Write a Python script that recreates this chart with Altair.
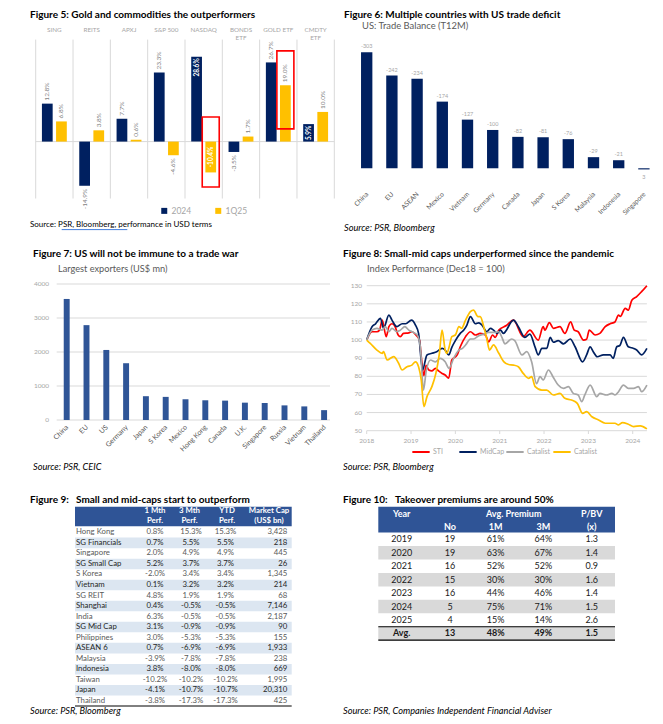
import altair as alt
import pandas as pd

FONT = "Lato"
W, H = 647, 708

NAVY = "#002060"
GOLD = "#FFC000"
BLUE = "#2F5597"
RED = "#FF0000"
LGREY = "#A6A6A6"
MGREY = "#7F7F7F"
DGREY = "#595959"
GRID = "#D9D9D9"
HDR = "#2F5496"
TSIZE = 10

# ---------------- data ----------------
f5_title = "Figure 5:  Gold and commodities the outperformers"
f5_source = "Source: PSR,  Bloomberg, performance in USD terms"
f5_cats = ["SING", "REITS", "APXJ", "S&P 500", "NASDAQ", "BONDS\nETF", "GOLD ETF", "CMDTY\nETF"]
f5_series = ["2024", "1Q25"]
f5_2024 = [12.8, -14.9, 7.7, 23.3, 28.6, -3.5, 26.7, 5.9]
f5_1q25 = [6.8, 3.8, 0.6, -4.6, -10.4, 1.7, 19.0, 10.0]
f5_box_cats = ["NASDAQ", "GOLD ETF"]
f5_box_top = [8.3, 30.6]
f5_box_bottom = [-15.3, 4.3]

f6_title = "Figure 6: Multiple countries with US trade deficit"
f6_subtitle = "US: Trade Balance (T12M)"
f6_source = "Source: PSR, Bloomberg"
f6_countries = ["China", "EU", "ASEAN", "Mexico", "Vietnam", "Germany", "Canada",
                "Japan", "S Korea", "Malaysia", "Indonesia", "Singapore"]
f6_values = [-303, -242, -234, -174, -127, -100, -82, -81, -76, -29, -21, 3]

f7_title = "Figure 7: US will not be immune to a trade war"
f7_subtitle = "Largest exporters (US$ mn)"
f7_source = "Source: PSR, CEIC"
f7_countries = ["China", "EU", "US", "Germany", "Japan", "S Korea", "Mexico", "Hong Kong",
                "Canada", "U.K.", "Singapore", "Russia", "Vietnam", "Thailand"]
f7_values = [3560, 2790, 2060, 1670, 700, 680, 610, 580, 570, 510, 500, 430, 400, 290]
f7_ticks = [0, 1000, 2000, 3000, 4000]

f8_title = "Figure 8: Small-mid caps underperformed since the pandemic"
f8_subtitle = "Index Performance (Dec18 = 100)"
f8_source = "Source: PSR, Bloomberg"
f8_series = ["STI", "MidCap", "Catalist", "Catalist "]
f8_yticks = [50, 60, 70, 80, 90, 100, 110, 120, 130]
f8_years = [2018, 2019, 2020, 2021, 2022, 2023, 2024]
f8_sti_t = [2018.00, 2018.12, 2018.23, 2018.29, 2018.35, 2018.44, 2018.50, 2018.57, 2018.64, 2018.71,
            2018.76, 2018.83, 2018.95, 2019.02, 2019.11, 2019.19, 2019.23, 2019.29, 2019.34, 2019.40,
            2019.47, 2019.55, 2019.62, 2019.70, 2019.77, 2019.85, 2019.92, 2020.04, 2020.11, 2020.23,
            2020.34, 2020.45, 2020.56, 2020.68, 2020.75, 2020.84, 2020.90, 2020.98, 2021.15, 2021.31,
            2021.53, 2021.68, 2021.87, 2021.98, 2022.02, 2022.12, 2022.21, 2022.36, 2022.47, 2022.60,
            2022.68, 2022.77, 2022.89, 2022.96, 2023.02, 2023.15, 2023.26, 2023.38, 2023.49, 2023.60,
            2023.68, 2023.72, 2023.83, 2023.90, 2023.98, 2024.09, 2024.20, 2024.32]
f8_sti = [100, 104.6, 104.6, 105.5, 111, 101.9, 107.4, 109, 107.4, 102.8,
          101.9, 103.7, 104, 104.6, 102.8, 100, 90.9, 80.4, 86, 83.5,
          83, 84.4, 83, 81.6, 80.7, 79, 89, 91.8, 96.3, 101.9,
          104.6, 102.8, 103.7, 102.8, 99, 102.8, 101.5, 105.5, 108, 111,
          101.9, 105.5, 100, 107.4, 105.5, 109.6, 106.5, 107.4, 103.7, 110,
          105.5, 104.6, 100, 100.5, 105.5, 102.8, 103.7, 107.4, 109, 110,
          113.8, 113, 117.5, 116.5, 122, 124, 126.7, 130]
f8_mid_t = [2018.00, 2018.12, 2018.20, 2018.31, 2018.38, 2018.50, 2018.57, 2018.68, 2018.80, 2018.88,
            2019.01, 2019.10, 2019.17, 2019.26, 2019.36, 2019.47, 2019.58, 2019.70, 2019.77, 2019.85,
            2019.92, 2020.00, 2020.11, 2020.19, 2020.26, 2020.34, 2020.45, 2020.53, 2020.60, 2020.71,
            2020.79, 2020.86, 2020.94, 2021.02, 2021.08, 2021.31, 2021.42, 2021.57, 2021.68, 2021.80,
            2021.87, 2021.95, 2022.06, 2022.14, 2022.21, 2022.32, 2022.44, 2022.59, 2022.70, 2022.87,
            2022.96, 2023.04, 2023.11, 2023.20, 2023.34, 2023.49, 2023.56, 2023.64, 2023.71, 2023.79,
            2023.90, 2024.02, 2024.09, 2024.20, 2024.32]
f8_mid = [100, 107.4, 109, 112, 106.5, 113.8, 111, 107.4, 109, 109,
          111, 108.3, 103.7, 83.5, 91.8, 92.7, 93.6, 95.4, 94.5, 91.8,
          96, 99.7, 103.7, 105.5, 108.3, 112.9, 109, 109.5, 108.3, 104.6,
          106.5, 105.5, 103.7, 105.5, 103.7, 111, 107.4, 101.5, 103.3, 96,
          91.8, 95.4, 95.4, 101.5, 98.8, 99.7, 97.9, 100.6, 96.3, 88,
          91.8, 96.3, 93.6, 90.8, 91.8, 91.8, 89.9, 96.3, 97, 101.5,
          96.3, 95.4, 94.5, 91.8, 95.4]
f8_cat1_t = [2018.00, 2018.12, 2018.23, 2018.35, 2018.42, 2018.50, 2018.57, 2018.68, 2018.76, 2018.86,
             2018.95, 2019.02, 2019.14, 2019.21, 2019.28, 2019.34, 2019.44, 2019.55, 2019.66, 2019.77,
             2019.86, 2019.96, 2020.08, 2020.16, 2020.23, 2020.34, 2020.41, 2020.53, 2020.64, 2020.75,
             2020.86, 2020.98, 2021.05, 2021.12, 2021.27, 2021.34, 2021.50, 2021.61, 2021.72, 2021.83,
             2021.91, 2021.98, 2022.10, 2022.20, 2022.32, 2022.44, 2022.55, 2022.66, 2022.77, 2022.85,
             2022.92, 2023.04, 2023.19, 2023.26, 2023.41, 2023.53, 2023.60, 2023.68, 2023.79, 2023.90,
             2024.02, 2024.13, 2024.20, 2024.32]
f8_cat1 = [100, 105.5, 106.5, 105.5, 107.4, 104.6, 106.5, 104.6, 105.5, 107.4,
           105.5, 104.6, 102.8, 96.3, 72.4, 82.6, 89, 88, 89.9, 88,
           84.4, 89.9, 94.5, 95.4, 97.3, 100.6, 100.6, 102.4, 103.3, 104.2,
           104.2, 104.6, 101.5, 97.9, 100.6, 99.7, 91.8, 93.6, 88, 76,
           79.8, 78, 83.5, 79.8, 75.2, 73.4, 74.3, 70.6, 69.7, 66,
           69.7, 75.2, 68.8, 70.6, 69.7, 70.6, 69.7, 71.5, 75.2, 73.4,
           73.4, 74.3, 71.5, 75.2]
f8_cat2_t = [2018.00, 2018.08, 2018.23, 2018.35, 2018.38, 2018.46, 2018.61, 2018.72, 2018.80, 2018.91,
             2019.02, 2019.10, 2019.17, 2019.23, 2019.29, 2019.36, 2019.47, 2019.56, 2019.64, 2019.70,
             2019.77, 2019.81, 2019.86, 2019.92, 2020.00, 2020.08, 2020.14, 2020.23, 2020.34, 2020.41,
             2020.51, 2020.56, 2020.64, 2020.71, 2020.77, 2020.86, 2020.98, 2021.09, 2021.20, 2021.31,
             2021.42, 2021.53, 2021.65, 2021.72, 2021.80, 2021.95, 2022.06, 2022.21, 2022.36, 2022.47,
             2022.62, 2022.75, 2022.87, 2022.96, 2023.08, 2023.23, 2023.38, 2023.60, 2023.68, 2023.77,
             2023.90, 2024.02, 2024.17, 2024.32]
f8_cat2 = [100, 98.2, 94.5, 92.7, 93.6, 89, 90.9, 87.2, 83.5, 85.3,
           86.2, 88, 85.3, 78, 63.3, 68.8, 74.3, 81.6, 92.7, 105.5,
           94.5, 92.7, 96.3, 101.9, 102.8, 107.4, 106.5, 111, 115.7, 116.5,
           112.9, 112.9, 107.4, 100.6, 94.5, 97.3, 92.7, 88.1, 86.5, 86.2,
           85.3, 81.6, 78.9, 79.8, 74.3, 72.4, 72.4, 69.7, 70.6, 67.9,
           66.9, 65.1, 59.6, 60.5, 57.7, 55.9, 54.1, 54.1, 53.2, 54.5,
           53.6, 52.3, 52.7, 51]

f9_fig = "Figure 9:"
f9_title = "Small and mid-caps start to outperform"
f9_source = "Source: PSR, Bloomberg"
f9_header = [["1 Mth", "Perf."], ["3 Mth", "Perf."], ["YTD", "Perf."], ["Market Cap", "(US$ bn)"]]
f9_rows = ["Hong Kong", "SG Financials", "Singapore", "SG Small Cap", "S Korea", "Vietnam", "SG REIT",
           "Shanghai", "India", "SG Mid Cap", "Philippines", "ASEAN 6", "Malaysia", "Indonesia",
           "Taiwan", "Japan", "Thailand"]
f9_m1 = [0.8, 0.7, 2.0, 5.2, -2.0, 0.1, 4.8, 0.4, 6.3, 3.1, 3.0, 0.7, -3.9, 3.8, -10.2, -4.1, -3.8]
f9_m3 = [15.3, 5.5, 4.9, 3.7, 3.4, 3.2, 1.9, -0.5, -0.5, -0.9, -5.3, -6.9, -7.8, -8.0, -10.2, -10.7, -17.3]
f9_ytd = [15.3, 5.5, 4.9, 3.7, 3.4, 3.2, 1.9, -0.5, -0.5, -0.9, -5.3, -6.9, -7.8, -8.0, -10.2, -10.7, -17.3]
f9_mcap = [3428, 218, 445, 26, 1345, 214, 68, 7146, 2187, 90, 155, 1933, 238, 669, 1995, 20310, 425]

f10_fig = "Figure 10:"
f10_title = "Takeover premiums are around 50%"
f10_source = "Source: PSR, Companies Independent Financial Adviser"
f10_header1 = ["Year", "Avg. Premium", "P/BV"]
f10_header2 = ["No", "1M", "3M", "(x)"]
f10_year = ["2019", "2020", "2021", "2022", "2023", "2024", "2025", "Avg."]
f10_no = [19, 19, 16, 15, 16, 5, 4, 13]
f10_1m = [61, 63, 52, 30, 44, 75, 15, 48]
f10_3m = [64, 67, 52, 30, 46, 71, 14, 49]
f10_pbv = [1.3, 1.4, 0.9, 1.6, 1.4, 1.5, 2.6, 1.5]


# ---------------- helpers (page px -> view px) ----------------
def px(x):
    return x - 8


def py(y):
    return y - 8


def txt(s, x, y, size=TSIZE, weight="normal", style="normal", color="#000000",
        align="left", baseline="middle"):
    return alt.Chart(pd.DataFrame({"s": [s]})).mark_text(
        font=FONT, fontSize=size, fontWeight=weight, fontStyle=style, color=color,
        align=align, baseline=baseline).encode(
        text="s:N", x=alt.value(px(x)), y=alt.value(py(y)))


def hrule(x1, x2, y, color, w=1.0):
    return alt.Chart(pd.DataFrame({"a": [0]})).mark_rule(color=color, strokeWidth=w).encode(
        x=alt.value(px(x1)), x2=alt.value(px(x2)), y=alt.value(py(y)))


def box(x1, x2, y1, y2, color):
    return alt.Chart(pd.DataFrame({"a": [0]})).mark_rect(color=color).encode(
        x=alt.value(px(x1)), x2=alt.value(px(x2)), y=alt.value(py(y1)), y2=alt.value(py(y2)))


layers = []

# ================= Figure 5 =================
df5 = pd.DataFrame({"cat": f5_cats * 2,
                    "series": [f5_series[0]] * len(f5_cats) + [f5_series[1]] * len(f5_cats),
                    "value": f5_2024 + f5_1q25})
df5["label"] = df5["value"].map(lambda v: f"{v:.1f}%")
inside_end = [("NASDAQ", "2024")]
inside_mid = [("NASDAQ", "1Q25"), ("CMDTY\nETF", "2024")]
df5["mode"] = ["end" if (c, s) in inside_end else "mid" if (c, s) in inside_mid
               else ("pos" if v >= 0 else "neg")
               for c, s, v in zip(df5.cat, df5.series, df5.value)]

xs5 = alt.Scale(domain=f5_cats, range=[px(35.7), px(334.3)], paddingInner=0, paddingOuter=0)
xo5 = alt.Scale(domain=f5_series, paddingInner=0.24, paddingOuter=0.44)
ys5 = alt.Scale(domain=[-19.7, 34.8], range=[py(200), py(38.4)], nice=False, zero=False)
X5 = alt.X("cat:N", scale=xs5, axis=None)
XO5 = alt.XOffset("series:N", scale=xo5)
Y5 = alt.Y("value:Q", scale=ys5, axis=None)

dcat = pd.DataFrame({"cat": f5_cats})
layers.append(alt.Chart(dcat).mark_rule(color=GRID, strokeWidth=1).encode(
    x=alt.X("cat:N", scale=xs5, axis=None, bandPosition=0),
    y=alt.YDatum(34.4, scale=ys5, axis=None), y2=alt.Y2Datum(-19.2)))
layers.append(alt.Chart(pd.DataFrame({"cat": f5_cats[-1:]})).mark_rule(color=GRID, strokeWidth=1).encode(
    x=alt.X("cat:N", scale=xs5, axis=None, bandPosition=1),
    y=alt.YDatum(34.4, scale=ys5, axis=None), y2=alt.Y2Datum(-19.2)))
layers.append(alt.Chart(pd.DataFrame({"a": [0]})).mark_rule(color=GRID, strokeWidth=1).encode(
    y=alt.YDatum(0, scale=ys5, axis=None), x=alt.value(px(35.7)), x2=alt.value(px(334.3))))

layers.append(alt.Chart(dcat).mark_text(
    font=FONT, fontSize=6.3, color=LGREY, baseline="bottom", lineBreak="\n", lineHeight=8).encode(
    x=X5, y=alt.value(py(33)), text="cat:N"))

layers.append(alt.Chart(df5).mark_bar().encode(
    x=X5, xOffset=XO5, y=Y5, y2=alt.Y2Datum(0),
    color=alt.Color("series:N", scale=alt.Scale(domain=f5_series, range=[NAVY, GOLD]),
                    legend=alt.Legend(title=None, orient="none", legendX=px(160), legendY=py(206.5),
                                      direction="horizontal", symbolType="square", symbolSize=36,
                                      symbolStrokeWidth=0, labelFont=FONT, labelFontSize=8.5,
                                      labelColor=LGREY, columnPadding=22, labelOffset=3, padding=0))))

lab = dict(font=FONT, fontSize=6.5, angle=270, baseline="middle")
layers.append(alt.Chart(df5).transform_filter("datum.mode == 'pos'").mark_text(
    align="left", dx=3, color=MGREY, **lab).encode(x=X5, xOffset=XO5, y=Y5, text="label:N"))
layers.append(alt.Chart(df5).transform_filter("datum.mode == 'neg'").mark_text(
    align="right", dx=-3, color=MGREY, **lab).encode(x=X5, xOffset=XO5, y=Y5, text="label:N"))
layers.append(alt.Chart(df5).transform_filter("datum.mode == 'end'").mark_text(
    align="right", dx=-1.5, color="white", fontWeight="bold", **lab).encode(
    x=X5, xOffset=XO5, y=Y5, text="label:N"))
layers.append(alt.Chart(df5).transform_filter("datum.mode == 'mid'").transform_calculate(
    mid="datum.value / 2").mark_text(
    align="center", color="white", fontWeight="bold", **lab).encode(
    x=X5, xOffset=XO5, y=alt.Y("mid:Q", scale=ys5, axis=None), text="label:N"))

layers.append(alt.Chart(pd.DataFrame({"cat": f5_box_cats, "series": ["1Q25"] * 2,
                                      "top": f5_box_top, "bottom": f5_box_bottom})).mark_bar(
    width=17, fill="transparent", stroke=RED, strokeWidth=1.6).encode(
    x=X5, xOffset=XO5, y=alt.Y("top:Q", scale=ys5, axis=None), y2=alt.Y2("bottom:Q")))

layers.append(txt(f5_title, 30, 10, weight="bold", baseline="top"))
layers.append(txt(f5_source, 30, 225, size=8))
layers.append(hrule(61.7, 127.3, 229.6, "#2F6FD6", 0.9))

# ================= Figure 6 =================
df6 = pd.DataFrame({"c": f6_countries, "v": f6_values})
xs6 = alt.Scale(domain=f6_countries, range=[px(354.1), px(656.5)], paddingInner=0.55, paddingOuter=0.275)
ys6 = alt.Scale(domain=[-320, 10], range=[py(45.7), py(172.1)], nice=False, zero=False)
X6 = alt.X("c:N", scale=xs6, axis=None)
Y6 = alt.Y("v:Q", scale=ys6, axis=None)
layers.append(alt.Chart(df6).mark_bar(color=NAVY).encode(x=X6, y=Y6, y2=alt.Y2Datum(0)))
layers.append(alt.Chart(df6).transform_filter("datum.v < 0").mark_text(
    font=FONT, fontSize=5.5, color=LGREY, baseline="bottom", dy=-3).encode(x=X6, y=Y6, text="v:N"))
layers.append(alt.Chart(df6).transform_filter("datum.v >= 0").mark_text(
    font=FONT, fontSize=5.5, color=LGREY, baseline="top", dy=6).encode(x=X6, y=Y6, text="v:N"))
layers.append(alt.Chart(df6).mark_text(
    font=FONT, fontSize=6.7, color=DGREY, angle=315, align="right", baseline="middle", dx=1).encode(
    x=X6, y=alt.value(py(194)), text="c:N"))
layers.append(txt(f6_title, 344, 10, weight="bold", baseline="top"))
layers.append(txt(f6_subtitle, 362, 25.5, size=9.4, color=DGREY))
layers.append(txt(f6_source, 344, 228.3, size=9.2, style="italic"))

# ================= Figure 7 =================
df7 = pd.DataFrame({"c": f7_countries, "v": f7_values})
xs7 = alt.Scale(domain=f7_countries, range=[px(56.8), px(334)], paddingInner=0.7, paddingOuter=0.35)
ys7 = alt.Scale(domain=[0, 4000], range=[py(420), py(284)], nice=False, zero=False)
X7 = alt.X("c:N", scale=xs7, axis=None)
Y7 = alt.Y("v:Q", scale=ys7, axis=None)
dt7 = pd.DataFrame({"v": f7_ticks})
layers.append(alt.Chart(dt7).mark_rule(color=GRID, strokeWidth=1).encode(
    y=Y7, x=alt.value(px(56.7)), x2=alt.value(px(330))))
layers.append(alt.Chart(dt7).mark_text(font=FONT, fontSize=6.5, color=LGREY, align="right").encode(
    y=Y7, x=alt.value(px(49)), text="v:N"))
layers.append(alt.Chart(df7).mark_bar(color=BLUE).encode(x=X7, y=Y7, y2=alt.Y2Datum(0)))
layers.append(alt.Chart(df7).mark_text(
    font=FONT, fontSize=7, color=DGREY, angle=315, align="right", baseline="middle", dx=1).encode(
    x=X7, y=alt.value(py(427)), text="c:N"))
layers.append(txt(f7_title, 33, 254, weight="bold"))
layers.append(txt(f7_subtitle, 58, 269, size=9.2, color=DGREY))
layers.append(txt(f7_source, 33, 466.7, size=9.2, style="italic"))

# ================= Figure 8 =================
df8 = pd.concat([
    pd.DataFrame({"series": f8_series[0], "t": f8_sti_t, "v": f8_sti}),
    pd.DataFrame({"series": f8_series[1], "t": f8_mid_t, "v": f8_mid}),
    pd.DataFrame({"series": f8_series[2], "t": f8_cat1_t, "v": f8_cat1}),
    pd.DataFrame({"series": f8_series[3], "t": f8_cat2_t, "v": f8_cat2}),
], ignore_index=True)
xs8 = alt.Scale(domain=[2018, 2024.32], range=[px(366.7), px(646.9)], nice=False, zero=False)
ys8 = alt.Scale(domain=[50, 130], range=[py(430.7), py(285.7)], nice=False, zero=False)
dy8 = pd.DataFrame({"v": f8_yticks})
dx8 = pd.DataFrame({"t": f8_years})
layers.append(alt.Chart(dy8).mark_rule(color=GRID, strokeWidth=1).encode(
    y=alt.Y("v:Q", scale=ys8, axis=None), x=alt.value(px(366.7)), x2=alt.value(px(646.9))))
layers.append(alt.Chart(dy8).mark_text(font=FONT, fontSize=6.5, color=LGREY, align="right").encode(
    y=alt.Y("v:Q", scale=ys8, axis=None), x=alt.value(px(362)), text="v:N"))
layers.append(alt.Chart(dx8).mark_rule(color=GRID, strokeWidth=1).encode(
    x=alt.X("t:Q", scale=xs8, axis=None), y=alt.value(py(430.7)), y2=alt.value(py(434))))
layers.append(alt.Chart(dx8).mark_text(font=FONT, fontSize=6.5, color=LGREY).encode(
    x=alt.X("t:Q", scale=xs8, axis=None), y=alt.value(py(441)), text="t:N"))
layers.append(alt.Chart(df8).mark_line(interpolate="monotone", strokeWidth=1.7).encode(
    x=alt.X("t:Q", scale=xs8, axis=None), y=alt.Y("v:Q", scale=ys8, axis=None),
    color=alt.Color("series:N", scale=alt.Scale(domain=f8_series, range=[RED, NAVY, LGREY, GOLD]),
                    legend=alt.Legend(title=None, orient="none", legendX=px(411), legendY=py(442),
                                      direction="horizontal", columns=4, gridAlign="all",
                                      symbolType="stroke", symbolSize=300, symbolStrokeWidth=2,
                                      labelFont=FONT, labelFontSize=7, labelColor=LGREY,
                                      columnPadding=-4, labelOffset=2, padding=0))))
layers.append(txt(f8_title, 343, 254, weight="bold"))
layers.append(txt(f8_subtitle, 367, 269, size=9.3, color=DGREY))
layers.append(txt(f8_source, 343, 466.7, size=9.2, style="italic"))

# ================= Figure 9 (table) =================
df9 = pd.DataFrame({"row": f9_rows,
                    "m1": [f"{v:.1f}%" for v in f9_m1],
                    "m3": [f"{v:.1f}%" for v in f9_m3],
                    "ytd": [f"{v:.1f}%" for v in f9_ytd],
                    "mcap": [f"{v:,}" for v in f9_mcap],
                    "idx": list(range(len(f9_rows)))})
ys9 = alt.Scale(domain=f9_rows, range=[py(527.1), py(706)], paddingInner=0, paddingOuter=0)
Y9 = alt.Y("row:N", scale=ys9, axis=None)
layers.append(alt.Chart(df9).transform_filter("datum.idx % 2 == 1").mark_rect(color="#DCE6F1").encode(
    y=Y9, x=alt.value(px(75)), x2=alt.value(px(291.7))))
layers.append(box(75, 291.7, 506.7, 526.2, HDR))
hdr_x9 = [155, 189.5, 227, 269]
for (l1, l2), hx in zip(f9_header, hdr_x9):
    layers.append(txt(l1, hx, 511.3, size=7.8, weight="bold", color="white", align="center"))
    layers.append(txt(l2, hx, 521, size=7.8, weight="bold", color="white", align="center"))
for field, cx, al in [("row", 76, "left"), ("m1", 155, "center"), ("m3", 191, "center"),
                      ("ytd", 225.5, "center"), ("mcap", 287.3, "right")]:
    layers.append(alt.Chart(df9).mark_text(font=FONT, fontSize=7.8, align=al, baseline="middle").encode(
        y=Y9, x=alt.value(px(cx)), text=f"{field}:N",
        color=alt.condition("datum.idx % 2 == 1", alt.value("#262626"), alt.value(DGREY))))
layers.append(alt.Chart(pd.DataFrame({"row": f9_rows[-1:]})).mark_rule(color="black", strokeWidth=1).encode(
    y=alt.Y("row:N", scale=ys9, axis=None, bandPosition=1), x=alt.value(px(75)), x2=alt.value(px(291.7))))
layers.append(txt(f9_fig, 30, 500, weight="bold"))
layers.append(txt(f9_title, 76, 500, weight="bold"))
layers.append(txt(f9_source, 30, 716, size=9.2, style="italic", baseline="bottom"))

# ================= Figure 10 (table) =================
df10 = pd.DataFrame({"row": f10_year,
                     "no": [str(v) for v in f10_no],
                     "m1": [f"{v}%" for v in f10_1m],
                     "m3": [f"{v}%" for v in f10_3m],
                     "pbv": [f"{v:.1f}" for v in f10_pbv],
                     "idx": list(range(len(f10_year)))})
ys10 = alt.Scale(domain=f10_year, range=[py(532.6), py(640.2)], paddingInner=0, paddingOuter=0)
Y10 = alt.Y("row:N", scale=ys10, axis=None)
layers.append(alt.Chart(df10).transform_filter("datum.idx % 2 == 1").mark_rect(color="#D9D9D9").encode(
    y=Y10, x=alt.value(px(378.3)), x2=alt.value(px(615))))
layers.append(box(378.3, 615, 506.7, 532.6, HDR))
for s, hx in zip(f10_header1, [401.7, 513.7, 591.7]):
    layers.append(txt(s, hx, 514, size=9, weight="bold", color="white", align="center"))
for s, hx in zip(f10_header2, [450, 495.7, 543.3, 591.7]):
    layers.append(txt(s, hx, 527.3, size=9, weight="bold", color="white", align="center"))
last = f10_year[-1]
for field, cx in [("row", 401.7), ("no", 450), ("m1", 495.7), ("m3", 543.3), ("pbv", 591.7)]:
    layers.append(alt.Chart(df10).transform_filter(f"datum.row != '{last}'").mark_text(
        font=FONT, fontSize=9, color="#1A1A1A", align="center").encode(
        y=Y10, x=alt.value(px(cx)), text=f"{field}:N"))
    layers.append(alt.Chart(df10).transform_filter(f"datum.row == '{last}'").mark_text(
        font=FONT, fontSize=9, color="#1A1A1A", align="center", fontWeight="bold").encode(
        y=Y10, x=alt.value(px(cx)), text=f"{field}:N"))
dlast = pd.DataFrame({"row": [last]})
for bp in [0, 1]:
    layers.append(alt.Chart(dlast).mark_rule(color="black", strokeWidth=1.2).encode(
        y=alt.Y("row:N", scale=ys10, axis=None, bandPosition=bp),
        x=alt.value(px(378.3)), x2=alt.value(px(615))))
layers.append(txt(f10_fig, 343, 500, weight="bold"))
layers.append(txt(f10_title, 395, 500, weight="bold"))
layers.append(txt(f10_source, 343, 716, size=9.2, style="italic", baseline="bottom"))

chart = alt.layer(*layers).resolve_scale(
    x="independent", y="independent", color="independent"
).properties(
    width=W, height=H, autosize=alt.AutoSizeParams(type="none"), padding=0
).configure_view(stroke=None)

chart.save("out.html", embed_options={"renderer": "svg", "actions": False})
